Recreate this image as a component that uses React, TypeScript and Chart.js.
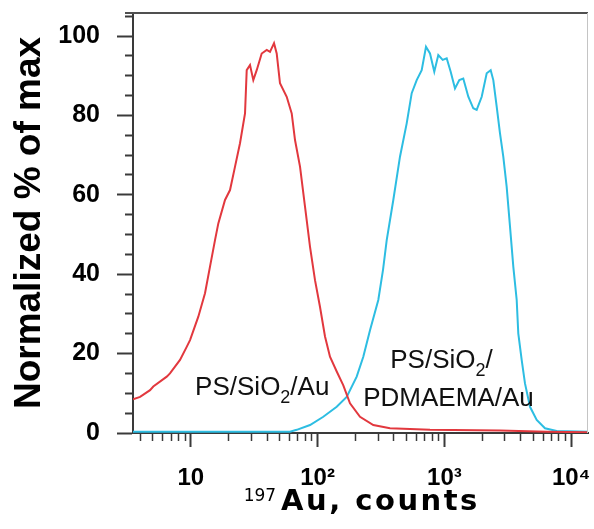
import React, { useEffect, useRef } from 'react';
import { Chart, registerables } from 'chart.js';

Chart.register(...registerables);

// ---- data ----
const redX = [3.5, 3.98, 4.77, 5.06, 6.46, 6.85, 8.22, 9.28, 9.86, 11.46, 12.94, 14.17, 15.52, 16.48, 18.61, 20.38, 22.32, 24.43, 26.76, 27.6, 29.31, 31.11, 33.09, 36.23, 39.69, 42.13, 45.32, 47.58, 50.51, 57.06, 62.49, 66.35, 72.66, 79.56, 87.14, 95.39, 104.4, 114.4, 125.2, 141.5, 159.5, 180.1, 216, 275, 372.4, 770, 2745, 6445, 14000];
const redY = [8.5, 9.1, 10.8, 11.7, 14.2, 15.0, 18.4, 21.7, 23.4, 29.3, 35.2, 41.9, 48.6, 52.8, 58.7, 61.2, 67.1, 73.0, 80.5, 91.4, 92.7, 88.9, 91.4, 95.6, 96.5, 96.0, 98.2, 95.6, 88.1, 84.7, 80.5, 73.8, 67.1, 57.0, 46.9, 38.5, 31.8, 24.3, 19.2, 15.5, 12.0, 7.5, 4.1, 2.0, 1.2, 0.8, 0.6, 0.3, 0.2];

const cyanX = [3.5, 60.6, 68.42, 87.14, 110.9, 141.5, 169.6, 203.4, 229.3, 259.0, 301.1, 328.0, 350.8, 395.4, 446.4, 504.3, 552.3, 604.7, 662.2, 715.9, 769.9, 832.4, 895.0, 969.7, 1042.6, 1121, 1212, 1311, 1409, 1544, 1690, 1797, 1969, 2156, 2318, 2431, 2585, 2745, 2914, 3099, 3292, 3495, 3717, 3826, 4069, 4321, 4733, 5346, 6215, 7686, 14000];
const cyanY = [0.3, 0.3, 0.8, 2.0, 4.1, 6.6, 9.1, 14.2, 19.2, 25.9, 33.5, 41.1, 48.6, 58.7, 69.6, 78.0, 85.6, 88.9, 91.4, 97.3, 95.6, 91.0, 95.2, 94.0, 94.4, 91.0, 86.8, 88.9, 89.3, 84.7, 81.8, 81.4, 84.7, 90.6, 91.4, 88.9, 82.2, 75.5, 69.6, 62.0, 52.0, 41.9, 33.5, 25.1, 18.4, 12.5, 6.6, 3.3, 1.2, 0.5, 0.3];

const xTickValues = [4, 5, 6, 7, 8, 9, 10, 20, 30, 40, 50, 60, 70, 80, 90, 100, 200, 300, 400, 500, 600, 700, 800, 900, 1000, 2000, 3000, 4000, 5000, 6000, 7000, 8000, 9000, 10000];
const xMajorValues = [10, 100, 1000, 10000];
const xMajorLabels = ['10', '10²', '10³', '10⁴'];

const yTickValues = [0, 5, 10, 15, 20, 25, 30, 35, 40, 45, 50, 55, 60, 65, 70, 75, 80, 85, 90, 95, 100, 105];
const yMajorValues = [0, 20, 40, 60, 80, 100];

const X_MIN = 3.5;
const X_MAX = 13570;
const Y_MIN = 0;
const Y_MAX = 105.8;

const yTitle = 'Normalized % of max';
const xTitleSup = '197';
const xTitleMain = 'Au, counts';

// annotation labels: [main, subscript, tail]
const annoParts = [
  ['PS/SiO', '2', '/Au'],
  ['PS/SiO', '2', '/'],
  ['PDMAEMA/Au', '', ''],
];
const annoX = [36.6, 948.6, 1077];
const annoY = [9.6, 16.4, 6.8];

const FONT = '"Liberation Sans", Arial, Helvetica, sans-serif';
const WIDE_FONT = '"DejaVu Sans", Verdana, sans-serif';
const AXIS_COLOR = '#3a3a3a';
const RED = '#e2383e';
const CYAN = '#2dbde2';

const overlayPlugin = {
  id: 'overlay',
  afterDraw(chart: any) {
    const { ctx, chartArea, scales } = chart;
    const xs = scales.x;
    const ys = scales.y;
    ctx.save();
    // frame (top and right edges)
    ctx.strokeStyle = '#505050';
    ctx.lineWidth = 2;
    ctx.beginPath();
    ctx.moveTo(chartArea.left - 8, chartArea.top);
    ctx.lineTo(chartArea.right, chartArea.top);
    ctx.stroke();
    ctx.strokeStyle = '#c4c4c4';
    ctx.lineWidth = 1;
    ctx.beginPath();
    ctx.moveTo(chartArea.right - 0.5, chartArea.top);
    ctx.lineTo(chartArea.right - 0.5, chartArea.bottom);
    ctx.stroke();

    // annotations
    ctx.fillStyle = '#111';
    ctx.textBaseline = 'alphabetic';
    ctx.textAlign = 'left';
    for (let i = 0; i < annoParts.length; i++) {
      const [a, s, b] = annoParts[i];
      const mainFont = `26px ${FONT}`;
      const subFont = `18px ${FONT}`;
      ctx.font = mainFont;
      const wa = ctx.measureText(a).width;
      const wb = ctx.measureText(b).width;
      ctx.font = subFont;
      const ws = s ? ctx.measureText(s).width : 0;
      const total = wa + ws + wb;
      const cx = xs.getPixelForValue(annoX[i]);
      const by = ys.getPixelForValue(annoY[i]);
      let px = cx - total / 2;
      ctx.font = mainFont;
      ctx.fillText(a, px, by);
      px += wa;
      if (s) {
        ctx.font = subFont;
        ctx.fillText(s, px, by + 8);
        px += ws;
      }
      ctx.font = mainFont;
      if (b) ctx.fillText(b, px, by);
    }

    // x-axis title with superscript
    const cx = (chartArea.left + chartArea.right) / 2;
    const base = chartArea.bottom + 77;
    ctx.fillStyle = '#000';
    const supFont = `17px ${WIDE_FONT}`;
    const mainFontT = `bold 29px ${WIDE_FONT}`;
    const spacing = 2.5;
    ctx.font = supFont;
    const w1 = ctx.measureText(xTitleSup).width;
    ctx.font = mainFontT;
    (ctx as any).letterSpacing = spacing + 'px';
    const w2 = ctx.measureText(xTitleMain).width - spacing;
    (ctx as any).letterSpacing = '0px';
    const gap = 5;
    const start = cx - (w1 + gap + w2) / 2;
    ctx.font = supFont;
    ctx.fillText(xTitleSup, start, base - 9.5);
    ctx.font = mainFontT;
    (ctx as any).letterSpacing = spacing + 'px';
    ctx.fillText(xTitleMain, start + w1 + gap, base);
    (ctx as any).letterSpacing = '0px';
    ctx.restore();
  },
};

export default function App() {
  const canvasRef = useRef<HTMLCanvasElement | null>(null);

  useEffect(() => {
    if (!canvasRef.current) return;
    const redData = redX.map((x, i) => ({ x, y: redY[i] }));
    const cyanData = cyanX.map((x, i) => ({ x, y: cyanY[i] }));

    const chart = new Chart(canvasRef.current, {
      type: 'line',
      data: {
        datasets: [
          {
            label: 'PS/SiO2/Au',
            data: redData,
            borderColor: RED,
            borderWidth: 2,
            pointRadius: 0,
            tension: 0,
            fill: false,
          },
          {
            label: 'PS/SiO2/PDMAEMA/Au',
            data: cyanData,
            borderColor: CYAN,
            borderWidth: 2,
            pointRadius: 0,
            tension: 0,
            fill: false,
          },
        ],
      },
      options: {
        animation: false,
        responsive: true,
        maintainAspectRatio: false,
        layout: { padding: { top: 13, right: 6, left: 0, bottom: 0 } },
        plugins: {
          legend: { display: false },
          tooltip: { enabled: false },
        },
        scales: {
          x: {
            type: 'logarithmic',
            min: X_MIN,
            max: X_MAX,
            bounds: 'data',
            afterBuildTicks: (scale: any) => {
              scale.ticks = xTickValues.map((v) => ({ value: v, major: xMajorValues.includes(v) }));
            },
            afterFit: (scale: any) => {
              scale.height = 96;
              scale.paddingLeft = 0;
              scale.paddingRight = 0;
            },
            border: { display: true, color: AXIS_COLOR, width: 2 },
            grid: {
              display: true,
              drawOnChartArea: false,
              drawTicks: true,
              tickLength: 14,
              tickColor: AXIS_COLOR,
              tickWidth: (ctx: any) => (xMajorValues.includes(ctx.tick?.value) ? 2 : 1.5),
              tickBorderDash: (ctx: any) => (xMajorValues.includes(ctx.tick?.value) ? [] : [7, 20]),
              tickBorderDashOffset: 0,
            },
            ticks: {
              autoSkip: false,
              maxRotation: 0,
              minRotation: 0,
              padding: 17,
              color: '#000',
              font: { family: FONT, size: 24, weight: 'bold' },
              callback: (value: any) => {
                const idx = xMajorValues.indexOf(Number(value));
                return idx >= 0 ? xMajorLabels[idx] : '';
              },
            },
            title: { display: false },
          },
          y: {
            type: 'linear',
            min: Y_MIN,
            max: Y_MAX,
            bounds: 'data',
            afterBuildTicks: (scale: any) => {
              scale.ticks = yTickValues.map((v) => ({ value: v }));
            },
            afterFit: (scale: any) => {
              scale.width = 133;
              scale.paddingTop = 0;
              scale.paddingBottom = 0;
            },
            border: { display: true, color: AXIS_COLOR, width: 2 },
            grid: {
              display: true,
              drawOnChartArea: false,
              drawTicks: true,
              tickLength: 16,
              tickColor: AXIS_COLOR,
              tickWidth: 2,
              tickBorderDash: (ctx: any) => (yMajorValues.includes(ctx.tick?.value) ? [] : [8, 8]),
              tickBorderDashOffset: (ctx: any) => (yMajorValues.includes(ctx.tick?.value) ? 0 : 8),
            },
            ticks: {
              autoSkip: false,
              padding: 17,
              color: '#000',
              font: { family: FONT, size: 25, weight: 'bold' },
              callback: (value: any) => (yMajorValues.includes(Number(value)) ? String(value) : ''),
            },
            title: {
              display: true,
              text: yTitle,
              color: '#000',
              font: { family: FONT, size: 37, weight: 'bold' },
              padding: { top: 8, bottom: 0 },
            },
          },
        },
      },
      plugins: [overlayPlugin],
    });

    return () => chart.destroy();
  }, []);

  return (
    <div style={{ position: 'absolute', left: 0, top: 0, width: 594, height: 529, background: '#fff' }}>
      <canvas ref={canvasRef} />
    </div>
  );
}
